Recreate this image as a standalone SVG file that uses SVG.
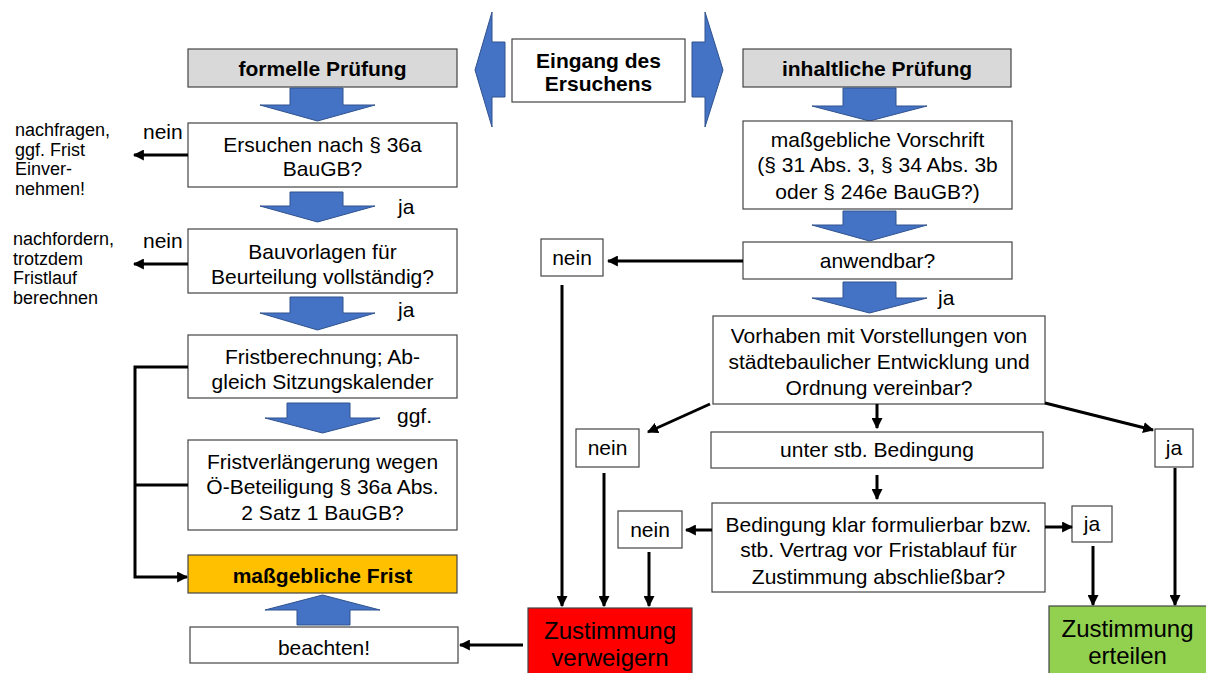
<svg xmlns="http://www.w3.org/2000/svg" width="1206" height="673" viewBox="0 0 1206 673">
<defs>
<style>
text{font-family:"Liberation Sans",Arial,sans-serif;fill:#000;}
.t{font-size:21px;text-anchor:middle;}
.b{font-size:21px;font-weight:bold;text-anchor:middle;}
.s{font-size:18px;}
.l{font-size:21px;}
.box{fill:#fff;stroke:#444;stroke-width:1.2;}
.hdr{fill:#d9d9d9;stroke:#444;stroke-width:1.2;}
.blue{fill:#4472c4;stroke:#2f528f;stroke-width:1;}
.c{fill:none;stroke:#000;stroke-width:3;}
</style>
<marker id="ah" viewBox="0 0 10 10" refX="9" refY="5" markerWidth="11" markerHeight="11" markerUnits="userSpaceOnUse" orient="auto">
<path d="M0,0 L10,5 L0,10 z" fill="#000"/>
</marker>
</defs>
<rect width="1206" height="673" fill="#fff"/>

<g id="double-arrow">
<polygon class="blue" points="505,42 492,42 492,12 475,70 492,127 492,97 505,97"/>
<polygon class="blue" points="692,42 705,42 705,12 723,70 705,127 705,97 692,97"/>
</g>

<g id="eingang">
<rect class="box" x="512" y="39" width="173" height="63"/>
<text class="b" x="598.5" y="68">Eingang des</text>
<text class="b" x="598.5" y="91">Ersuchens</text>
</g>

<g id="formelle">
<rect class="hdr" x="188" y="49" width="269" height="38"/>
<text class="b" x="322.5" y="76">formelle Prüfung</text>
</g>

<g id="inhaltliche">
<rect class="hdr" x="743" y="49" width="268" height="38"/>
<text class="b" x="877" y="76">inhaltliche Prüfung</text>
</g>

<g id="blue-arrows">
<polygon class="blue" points="290,88 343,88 343,105 375,105 317.5,121 260,105 290,105"/>
<polygon class="blue" points="290,192 343,192 343,206 375,206 317.5,222 260,206 290,206"/>
<polygon class="blue" points="290,297 343,297 343,313 375,313 317.5,330 260,313 290,313"/>
<polygon class="blue" points="287,403 350,403 350,418 380,418 322.5,433 265,418 287,418"/>
<polygon class="blue" points="297,625 350,625 350,610 380,610 322.5,595 265,610 297,610"/>
<polygon class="blue" points="843,88 896,88 896,106 927,106 869.5,121 812,106 843,106"/>
<polygon class="blue" points="843,211 896,211 896,225 927,225 869.5,241 812,225 843,225"/>
<polygon class="blue" points="843,282 896,282 896,298 927,298 869.5,313 812,298 843,298"/>
</g>

<g id="ersuchen">
<rect class="box" x="188" y="123" width="269" height="64"/>
<text class="t" x="322.5" y="152">Ersuchen nach § 36a</text>
<text class="t" x="322.5" y="176">BauGB?</text>
</g>

<g id="bauvorlagen">
<rect class="box" x="188" y="229" width="269" height="64"/>
<text class="t" x="322.5" y="259">Bauvorlagen für</text>
<text class="t" x="322.5" y="284">Beurteilung vollständig?</text>
</g>

<g id="fristberechnung">
<rect class="box" x="188" y="335" width="269" height="63"/>
<text class="t" x="322.5" y="364">Fristberechnung; Ab-</text>
<text class="t" x="322.5" y="389">gleich Sitzungskalender</text>
</g>

<g id="fristverlaengerung">
<rect class="box" x="188" y="440" width="269" height="90"/>
<text class="t" x="322.5" y="469">Fristverlängerung wegen</text>
<text class="t" x="322.5" y="494">Ö-Beteiligung § 36a Abs.</text>
<text class="t" x="322.5" y="520">2 Satz 1 BauGB?</text>
</g>

<g id="massgebliche-frist">
<rect x="188" y="555" width="269" height="38" fill="#ffc000" stroke="#444" stroke-width="1.2"/>
<text class="b" x="322.5" y="583">maßgebliche Frist</text>
</g>

<g id="beachten">
<rect class="box" x="190" y="627" width="268" height="36"/>
<text class="t" x="324" y="655">beachten!</text>
</g>

<g id="side-labels">
<text class="s" x="15" y="136">nachfragen,</text>
<text class="s" x="15" y="155.5">ggf. Frist</text>
<text class="s" x="15" y="175">Einver-</text>
<text class="s" x="15" y="194.5">nehmen!</text>
<text class="s" x="13" y="245">nachfordern,</text>
<text class="s" x="13" y="264.5">trotzdem</text>
<text class="s" x="13" y="284">Fristlauf</text>
<text class="s" x="13" y="303.5">berechnen</text>
<text class="l" x="143" y="139">nein</text>
<text class="l" x="143" y="248">nein</text>
<text class="l" x="398" y="214">ja</text>
<text class="l" x="398" y="317">ja</text>
<text class="l" x="397" y="423">ggf.</text>
<text class="l" x="938" y="305">ja</text>
</g>

<g id="vorschrift">
<rect class="box" x="743" y="121" width="269" height="88"/>
<text class="t" x="877.5" y="147">maßgebliche Vorschrift</text>
<text class="t" x="877.5" y="172">(§ 31 Abs. 3, § 34 Abs. 3b</text>
<text class="t" x="877.5" y="199">oder § 246e BauGB?)</text>
</g>

<g id="anwendbar">
<rect class="box" x="743" y="242" width="269" height="37"/>
<text class="t" x="877.5" y="268">anwendbar?</text>
</g>

<g id="nein-anwendbar">
<rect class="box" x="541" y="239" width="62" height="37"/>
<text class="t" x="572" y="265">nein</text>
</g>

<g id="vorhaben">
<rect class="box" x="713" y="316" width="332" height="88"/>
<text class="t" x="879" y="343">Vorhaben mit Vorstellungen von</text>
<text class="t" x="879" y="369">städtebaulicher Entwicklung und</text>
<text class="t" x="879" y="395">Ordnung vereinbar?</text>
</g>

<g id="nein-vorhaben">
<rect class="box" x="576" y="429" width="63" height="38"/>
<text class="t" x="607.5" y="455">nein</text>
</g>

<g id="unter-bedingung">
<rect class="box" x="711" y="432" width="332" height="36"/>
<text class="t" x="877" y="457">unter stb. Bedingung</text>
</g>

<g id="ja-vorhaben">
<rect class="box" x="1155" y="429" width="38" height="38"/>
<text class="t" x="1174" y="455">ja</text>
</g>

<g id="bedingung">
<rect class="box" x="712" y="503" width="333" height="89"/>
<text class="t" x="878.5" y="532">Bedingung klar formulierbar bzw.</text>
<text class="t" x="878.5" y="557">stb. Vertrag vor Fristablauf für</text>
<text class="t" x="878.5" y="584">Zustimmung abschließbar?</text>
</g>

<g id="nein-bedingung">
<rect class="box" x="618" y="511" width="64" height="37"/>
<text class="t" x="650" y="537">nein</text>
</g>

<g id="ja-bedingung">
<rect class="box" x="1072" y="506" width="40" height="36"/>
<text class="t" x="1092" y="531">ja</text>
</g>

<g id="verweigern">
<rect x="528" y="608" width="164" height="70" fill="#ff0000" stroke="#444" stroke-width="1.2"/>
<text x="610" y="639" font-size="24" text-anchor="middle">Zustimmung</text>
<text x="610" y="666" font-size="24" text-anchor="middle">verweigern</text>
</g>

<g id="erteilen">
<rect x="1049" y="606" width="162" height="72" fill="#92d050" stroke="#444" stroke-width="1.2"/>
<text x="1127.5" y="637" font-size="24" text-anchor="middle">Zustimmung</text>
<text x="1127.5" y="664" font-size="24" text-anchor="middle">erteilen</text>
</g>

<g id="connectors">
<path class="c" d="M188,155 H134" marker-end="url(#ah)"/>
<path class="c" d="M188,264 H134" marker-end="url(#ah)"/>
<path class="c" d="M188,367 H135 V577 H187" marker-end="url(#ah)"/>
<path class="c" d="M135,485 H188"/>
<path class="c" d="M523,645 H460" marker-end="url(#ah)"/>
<path class="c" d="M743,261 H608" marker-end="url(#ah)"/>
<path class="c" d="M562,285 V606" marker-end="url(#ah)"/>
<path class="c" d="M710,404 L648,432" marker-end="url(#ah)"/>
<path class="c" d="M877,404 V428" marker-end="url(#ah)"/>
<path class="c" d="M1045,403 L1153,430" marker-end="url(#ah)"/>
<path class="c" d="M604,473 V606" marker-end="url(#ah)"/>
<path class="c" d="M877,475 V499" marker-end="url(#ah)"/>
<path class="c" d="M712,530 H686" marker-end="url(#ah)"/>
<path class="c" d="M649,552 V606" marker-end="url(#ah)"/>
<path class="c" d="M1045,527 H1072" marker-end="url(#ah)"/>
<path class="c" d="M1093,546 V605" marker-end="url(#ah)"/>
<path class="c" d="M1175,468 V605" marker-end="url(#ah)"/>
</g>
</svg>
